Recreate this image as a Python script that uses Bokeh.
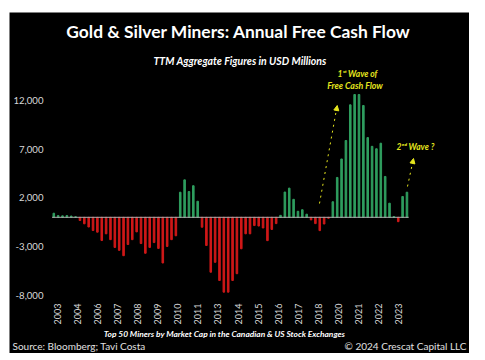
import pandas as pd
from bokeh.plotting import figure
from bokeh.models import (Label, Arrow, NormalHead, FixedTicker, NumeralTickFormatter,
                          ColumnDataSource, Range1d)
from bokeh.embed import file_html
from bokeh.resources import INLINE

# ---------------- data ----------------
first_quarter = "2003Q3"
fcf = [420, 180, 150, 180, 130, 60,
       -330, -670, -1000, -1360, -1530, -2390, -1700, -2300, -3100, -3400, -3950,
       -2800, -2300, -1500, -2700, -3700, -3100, -2600, -3200, -4700, -3000, -2300, -1900,
       2580, 3850, 2650, 3250, 1650,
       -1020, -2900, -5650, -4630, -6500, -7700, -7700, -6500, -5800, -3240,
       -1700, -1700, -850, -900, -1100, -2400, -1250, -650,
       200, 2600, 3000, 1850, 620, 780, 320,
       -270, -650, -1370, -690, -100,
       1600, 4100, 6000, 7900, 11570, 12630, 12630, 11500, 8200, 7300, 7050, 7620,
       4200, 1450, 80, -450, 2140, 2580]
tick_labels = ["2003", "2004", "2006", "2007", "2008", "2009", "2010", "2011", "2013",
               "2014", "2015", "2016", "2017", "2018", "2020", "2021", "2022", "2023"]
y_ticks = [-8000, -3000, 2000, 7000, 12000]

title = "Gold & Silver Miners: Annual Free Cash Flow"
subtitle = "TTM Aggregate Figures in USD Millions"
footnote = "Top 50 Miners by Market Cap in the Canadian & US Stock Exchanges"
source = "Source: Bloomberg; Tavi Costa"
copyright_txt = "\u00a9 2024 Crescat Capital LLC"
wave1 = ["1\u02e2\u1d57 Wave of", "Free Cash Flow"]
wave2 = "2\u207f\u1d48 Wave ?"

# ---------------- build ----------------
quarters = pd.period_range(first_quarter, periods=len(fcf), freq="Q")
xs = [q.year + (q.quarter - 1) / 4 for q in quarters]
GREEN = "#2f9e5f"
RED = "#d01818"
YELLOW = "#e6e61e"
colors = [GREEN if v >= 0 else RED for v in fcf]
src = ColumnDataSource(dict(x=xs, top=fcf, color=colors))

FIG_X, FIG_Y, W, H = 9, 12, 460, 341   # page position / size of the black panel


def X(px):   # page pixel -> data x
    return 2003.5 + (px - 53.3) / 17.44


def Y(py):   # page pixel -> data y
    return (216.8 - py) / 0.009722


p = figure(width=W, height=H, output_backend="svg", toolbar_location=None,
           x_range=Range1d(X(FIG_X), X(FIG_X + W)), y_range=Range1d(Y(FIG_Y + H), Y(FIG_Y)),
           min_border=0)
p.margin = (FIG_Y, 0, 0, FIG_X)
p.background_fill_color = "black"
p.border_fill_color = "black"
p.outline_line_color = None
p.grid.visible = False

p.vbar(x="x", top="top", bottom=0, width=0.09, color="color", source=src)
p.line(x=[xs[0] - 0.1, xs[-1] + 0.1], y=[0, 0], line_color="#b0b0b0", line_width=1)

# axes (drawn inside the full-size frame)
tick_pos = [round(2003.7125 + 1.15 * j, 4) for j in range(len(tick_labels))]
p.xaxis.ticker = FixedTicker(ticks=tick_pos)
p.xaxis.major_label_overrides = {t: l for t, l in zip(tick_pos, tick_labels)}
p.xaxis.major_label_orientation = 3.14159265 / 2
p.xaxis.fixed_location = Y(297)
p.yaxis.ticker = FixedTicker(ticks=y_ticks)
p.yaxis.formatter = NumeralTickFormatter(format="0,0")
p.yaxis.fixed_location = X(47)
for ax in (p.xaxis, p.yaxis):
    ax.axis_line_color = None
    ax.major_tick_line_color = None
    ax.minor_tick_line_color = None
    ax.major_tick_out = 0
    ax.major_tick_in = 0
    ax.minor_tick_out = 0
    ax.major_label_text_color = "#d8d8d8"
    ax.major_label_text_font = "Lato"
p.xaxis.major_label_text_font_size = "9px"
p.yaxis.major_label_text_font_size = "9.6px"
p.xaxis.major_label_standoff = 6
p.yaxis.major_label_standoff = 4


def lab(text, px, py, size, color="white", style="normal", align="center"):
    p.add_layout(Label(x=X(px), y=Y(py), text=text, text_color=color, text_font="Lato",
                       text_font_size=size, text_font_style=style, text_align=align,
                       text_baseline="middle"))


lab(title, 238, 31, "17.4px", style="bold")
lab(subtitle, 239.5, 60, "10.5px", style="bold italic")
lab(wave1[0], 357, 73, "8.5px", color=YELLOW, style="bold italic")
lab(wave1[1], 354.5, 84.5, "8.8px", color=YELLOW, style="bold italic")
lab(wave2, 415, 146, "8.5px", color=YELLOW, style="bold italic")
lab(footnote, 224, 333, "8.4px", style="bold italic")
lab(source, 12, 345, "10px", color="#e0e0e0", align="left")
lab(copyright_txt, 466, 345, "10px", color="#e0e0e0", align="right")

for (x0, y0, x1, y1) in [(319, 203, 336.7, 105), (407, 186, 413, 158)]:
    p.add_layout(Arrow(end=NormalHead(size=5, fill_color=YELLOW, line_color=YELLOW),
                       x_start=X(x0), y_start=Y(y0), x_end=X(x1), y_end=Y(y1),
                       line_color=YELLOW, line_width=1, line_dash="dotted"))

open("out.html", "w").write(file_html(p, INLINE))
